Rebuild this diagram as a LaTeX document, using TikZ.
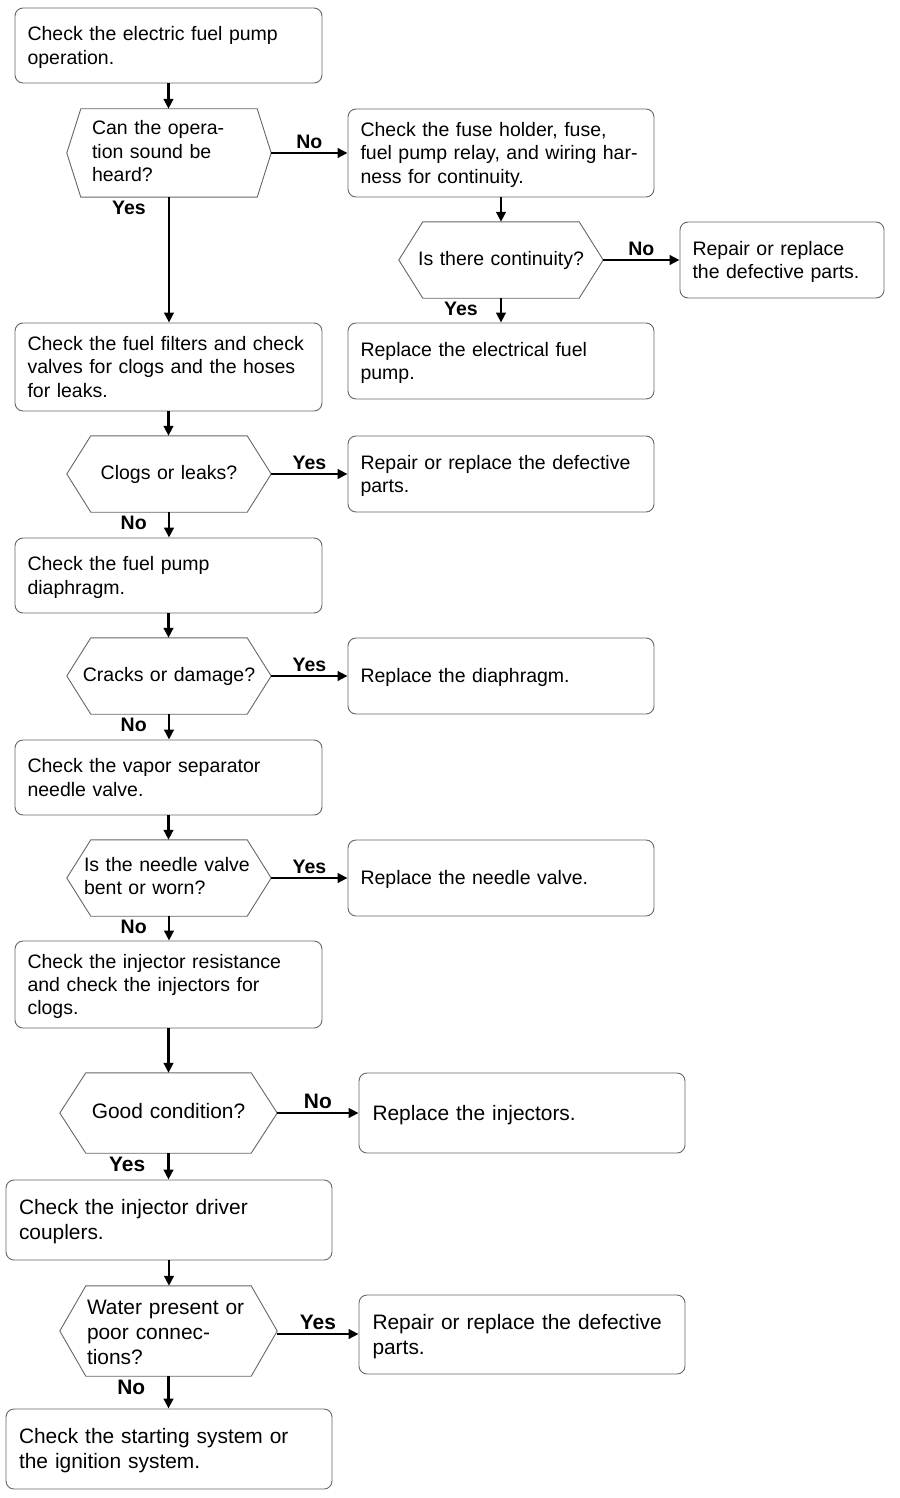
\documentclass[tikz,border=0pt]{standalone}
\usepackage{fontspec}
\setmainfont{Liberation Sans}
\usetikzlibrary{arrows.meta,calc}
\newcommand\hexof[2]{\draw[hexline] (#1.west) -- ([xshift=#2]#1.north west) -- ([xshift=-#2]#1.north east) -- (#1.east) -- ([xshift=-#2]#1.south east) -- ([xshift=#2]#1.south west) -- cycle;}
\newcommand\topstrut[1]{\rule[-.3\baselineskip]{0pt}{\dimexpr\baselineskip+#1\relax}}
\begin{document}
\begin{tikzpicture}[x=1pt,y=-1pt,
  fa/.style={font=\fontsize{19.5}{23.3}\selectfont},
  fb/.style={font=\fontsize{20.9}{25}\selectfont},
  box/.style={draw=black!60, line width=0.9pt, rounded corners=8pt, inner xsep=12.5pt, inner ysep=0pt, align=left,
    execute at begin node={\topstrut{4.5pt}}, execute at end node=\strut},
  hexnode/.style={draw=none, inner xsep=0pt, inner ysep=0pt,
    execute at begin node={\topstrut{1pt}}, execute at end node=\strut},
  hexline/.style={draw=black!60, line width=0.9pt},
  arr/.style={line width=2.6pt, -{Triangle[length=10pt,width=9.5pt]}},
  lbla/.style={font=\fontsize{19.5}{23}\selectfont\bfseries, inner sep=3pt},
  lblb/.style={font=\fontsize{20.9}{25}\selectfont\bfseries, inner sep=3pt}
]
\useasboundingbox (0,0) rectangle (899,1498);
% top section
\node[box,fa,minimum width=307,minimum height=75,text width=282] (b1) at (168.5,45.5) {Check the electric fuel pump\\operation.};
\node[hexnode,fa,minimum width=204,minimum height=88,text width=154,align=left] (h1) at (169,153) {Can the opera-\\tion sound be\\heard?};
\hexof{h1}{14}
\node[box,fa,minimum width=306,minimum height=88,text width=281] (b2) at (501,153) {Check the fuse holder, fuse,\\fuel pump relay, and wiring har-\\ness for continuity.};
\node[hexnode,fa,minimum width=204,minimum height=76,text width=190,align=center] (h2) at (501,260) {Is there continuity?};
\hexof{h2}{24}
\node[box,fa,minimum width=204,minimum height=76,text width=179] (b3) at (782,260) {Repair or replace\\the defective parts.};
\node[box,fa,minimum width=306,minimum height=76,text width=281] (b4) at (501,361) {Replace the electrical fuel\\pump.};
\node[box,fa,minimum width=307,minimum height=88,text width=282] (b5) at (168.5,367) {Check the fuel filters and check\\valves for clogs and the hoses\\for leaks.};
\node[hexnode,fa,minimum width=204,minimum height=76,text width=190,align=center] (h3) at (169,474) {Clogs or leaks?};
\hexof{h3}{24}
\node[box,fa,minimum width=306,minimum height=76,text width=281] (b6) at (501,474) {Repair or replace the defective\\parts.};
\node[box,fa,minimum width=307,minimum height=75,text width=282] (b7) at (168.5,575.5) {Check the fuel pump\\diaphragm.};
\node[hexnode,fa,minimum width=204,minimum height=76,text width=190,align=center] (h4) at (169,676) {Cracks or damage?};
\hexof{h4}{24}
\node[box,fa,minimum width=306,minimum height=76,text width=281] (b8) at (501,676) {Replace the diaphragm.};
\node[box,fa,minimum width=307,minimum height=75,text width=282] (b9) at (168.5,777.5) {Check the vapor separator\\needle valve.};
\node[hexnode,fa,minimum width=204,minimum height=76,text width=170,align=left] (h5) at (169,878) {Is the needle valve\\bent or worn?};
\hexof{h5}{24}
\node[box,fa,minimum width=306,minimum height=76,text width=281] (b10) at (501,878) {Replace the needle valve.};
\node[box,fa,minimum width=307,minimum height=87,text width=282] (b11) at (168.5,984.5) {Check the injector resistance\\and check the injectors for\\clogs.};
% bottom section
\node[hexnode,fb,minimum width=217,minimum height=80,text width=200,align=center] (h6) at (168.5,1113) {Good condition?};
\hexof{h6}{26}
\node[box,fb,minimum width=326,minimum height=80,text width=299,inner xsep=13.5pt] (b12) at (522,1113) {Replace the injectors.};
\node[box,fb,minimum width=326,minimum height=80,text width=300,inner xsep=13pt] (b13) at (169,1220) {Check the injector driver\\couplers.};
\node[hexnode,fb,minimum width=217,minimum height=90,text width=163,align=left,execute at begin node={\topstrut{7pt}}] (h7) at (168.5,1331) {Water present or\\poor connec-\\tions?};
\hexof{h7}{26}
\node[box,fb,minimum width=326,minimum height=79,text width=299,inner xsep=13.5pt] (b14) at (522,1334.5) {Repair or replace the defective\\parts.};
\node[box,fb,minimum width=326,minimum height=80,text width=300,inner xsep=13pt] (b15) at (169,1449) {Check the starting system or\\the ignition system.};
% connectors
\draw[arr] (b1.south) -- (b1.south |- h1.north);
\draw[arr] (h1.east) -- (h1.east -| b2.west) node[midway,above,lbla] {No};
\draw[arr] (b2.south) -- (b2.south |- h2.north);
\draw[arr] (h2.east) -- (h2.east -| b3.west) node[midway,above,lbla] {No};
\draw[arr] (h2.south) -- (h2.south |- b4.north) node[pos=0,anchor=north east,xshift=-19pt,lbla] {Yes};
\draw[arr] (h1.south) -- (h1.south |- b5.north) node[pos=0,anchor=north east,xshift=-19pt,lbla] {Yes};
\draw[arr] (b5.south) -- (b5.south |- h3.north);
\draw[arr] (h3.east) -- (h3.east -| b6.west) node[midway,above,lbla] {Yes};
\draw[arr] (h3.south) -- (h3.south |- b7.north) node[pos=0,anchor=north east,xshift=-18pt,lbla] {No};
\draw[arr] (b7.south) -- (b7.south |- h4.north);
\draw[arr] (h4.east) -- (h4.east -| b8.west) node[midway,above,lbla] {Yes};
\draw[arr] (h4.south) -- (h4.south |- b9.north) node[pos=0,anchor=north east,xshift=-18pt,lbla] {No};
\draw[arr] (b9.south) -- (b9.south |- h5.north);
\draw[arr] (h5.east) -- (h5.east -| b10.west) node[midway,above,lbla] {Yes};
\draw[arr] (h5.south) -- (h5.south |- b11.north) node[pos=0,anchor=north east,xshift=-18pt,lbla] {No};
\draw[arr] (b11.south) -- (b11.south |- h6.north);
\draw[arr] (h6.east) -- (h6.east -| b12.west) node[midway,above,lblb] {No};
\draw[arr] (h6.south) -- (h6.south |- b13.north) node[pos=0,anchor=north east,xshift=-19pt,lblb] {Yes};
\draw[arr] (b13.south) -- (b13.south |- h7.north);
\draw[arr] ([yshift=-3pt]h7.east) -- ([yshift=-3pt]h7.east -| b14.west) node[midway,above,lblb] {Yes};
\draw[arr] (h7.south) -- (h7.south |- b15.north) node[pos=0,anchor=north east,xshift=-19pt,lblb] {No};
\end{tikzpicture}
\end{document}
